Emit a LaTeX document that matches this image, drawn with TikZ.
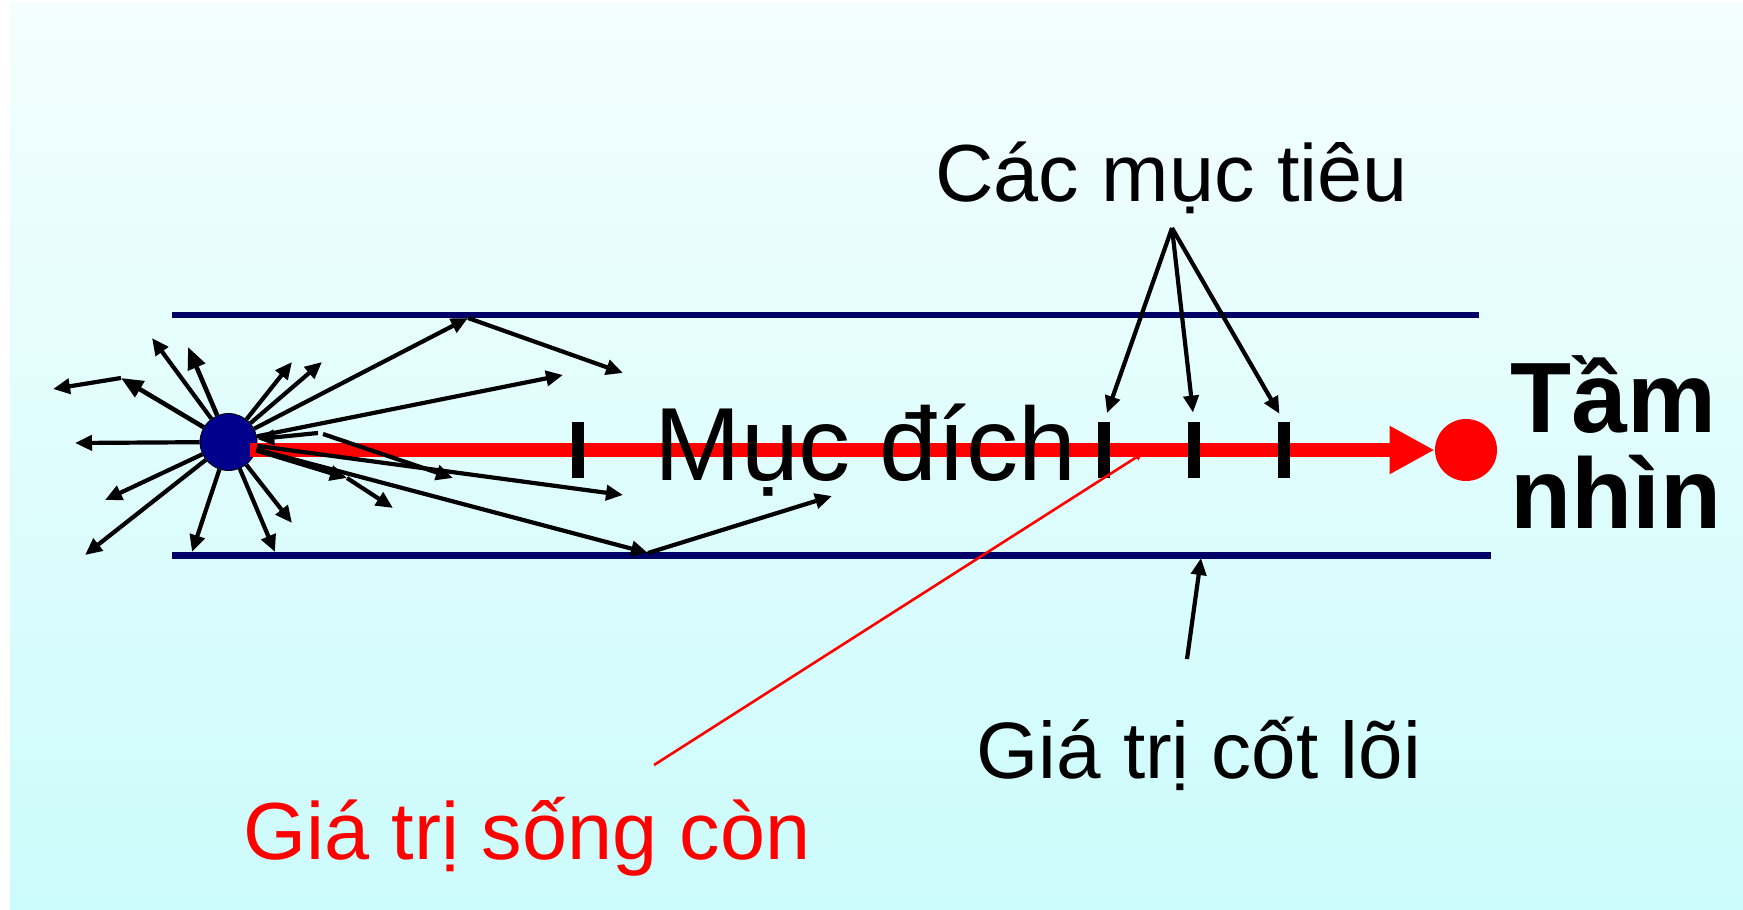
\documentclass[tikz,border=0pt]{standalone}
\usepackage{fontspec}
\setmainfont{Liberation Sans}
\usetikzlibrary{arrows.meta}
\definecolor{navyline}{RGB}{0,0,102}
\definecolor{navyfill}{RGB}{0,0,140}
\definecolor{bgtop}{RGB}{244,254,254}
\definecolor{bgbot}{RGB}{204,251,251}
\begin{document}
\begin{tikzpicture}[x=0.5pt,y=-0.5pt,
 arr/.style={line width=2.1pt, -{Triangle[length=8.5pt,width=7.5pt]}},
 bigarr/.style={line width=2.3pt, -{Triangle[length=11pt,width=9pt]}},
 boundary/.style={line width=3.4pt, navyline},
 srcdot/.style={circle, fill=navyfill, draw=black, line width=0.4pt, minimum size=28.5pt, inner sep=0pt},
 enddot/.style={circle, fill=red, minimum size=31pt, inner sep=0pt},
 tickmark/.style={rectangle, fill=black, minimum width=6pt, minimum height=28pt, inner sep=0pt},
 redbar/.style={red, line width=7.25pt, -{Triangle[length=22.5pt,width=22.5pt]}},
 pointer/.style={red, line width=1.3pt, -{Triangle[length=4pt,width=3.5pt]}},
 lbl/.style={inner sep=0pt, anchor=base west, font=\fontsize{40.5pt}{48pt}\selectfont},
]
\useasboundingbox (0,0) rectangle (1743,909);
\fill[white] (0,0) rectangle (1743,909);
\shade[top color=bgtop, bottom color=bgbot] (10,4) rectangle (1743,909);

% boundary lines
\coordinate (tl1) at (172,315); \coordinate (tl2) at (1479,315);
\coordinate (bl1) at (172,555.5); \coordinate (bl2) at (1491,555.5);
\draw[boundary] (tl1) -- (tl2);
\draw[boundary] (bl1) -- (bl2);

% main nodes
\node[srcdot] (src) at (228.5,442) {};
\node[enddot] (vis) at (1466,450) {};
\coordinate (rs) at (250,450);
\draw[redbar] (rs) -- (vis.west);

\node[tickmark] (t0) at (578,450) {};
\node[tickmark] (t1) at (1104,450) {};
\node[tickmark] (t2) at (1194,450) {};
\node[tickmark] (t3) at (1284,450) {};

% texts
\node[lbl, font=\fontsize{52pt}{60pt}\selectfont] (goal) at (654,480) {Mục đích};
\node[lbl] (obj) at (935,202) {Các mục tiêu};
\node[lbl, font=\fontsize{50pt}{58pt}\selectfont\bfseries] (tam) at (1510,432) {Tầm};
\node[lbl, font=\fontsize{50pt}{58pt}\selectfont\bfseries] (nhin) at (1510,528) {nhìn};
\node[lbl, font=\fontsize{40pt}{48pt}\selectfont] (core) at (976,778) {Giá trị cốt lõi};
\node[lbl, text=red] (surv) at (243,859) {Giá trị sống còn};

% objectives arrows
\coordinate (g) at (1172,228);
\draw[arr, shorten >=4.5pt] (g) -- (t1.north);
\draw[arr, shorten >=4.5pt] (g) -- (t2.north);
\draw[arr, shorten >=4.5pt] (g) -- (t3.north);

% core value arrow
\coordinate (ca) at (1187,659); \coordinate (cb) at (1201,558);
\draw[arr] (ca) -- (cb);

% survival pointer
\coordinate (sa) at (654,765); \coordinate (sb) at (1143,453);
\draw[pointer] (sa) -- (sb);

% scattered arrows
\coordinate (p1) at (75,443);
\coordinate (b1) at (121,378); \coordinate (p2) at (53,389);
\coordinate (p3) at (152,338);
\coordinate (p4) at (188,347);
\coordinate (p5) at (292,362);
\coordinate (p6) at (322,362);
\coordinate (tb) at (468,318); \coordinate (p7) at (623,373);
\coordinate (p8) at (563,375);
\coordinate (k1) at (318,433);
\coordinate (k2) at (323,434); \coordinate (p9) at (453,478);
\coordinate (p10) at (623,495);
\coordinate (lb) at (347,478); \coordinate (p11) at (393,508);
\coordinate (bb) at (648,553); \coordinate (p12) at (832,496);
\coordinate (p13) at (105,500);
\coordinate (p14) at (85,555);
\coordinate (p15) at (192,552);
\coordinate (p16) at (275,552);
\coordinate (p17) at (292,523);

\draw[arr] (src) -- (p1);
\draw[bigarr] (src) -- (b1);
\draw[arr] (b1) -- (p2);
\draw[arr] (src) -- (p3);
\draw[bigarr] (src) -- (p4);
\draw[arr] (src) -- (p5);
\draw[arr] (src) -- (p6);
\draw[arr] (src) -- (tb);
\draw[arr] (tb) -- (p7);
\draw[arr] (src) -- (p8);
\draw[arr] (k1) -- (src);
\draw[arr] (k2) -- (p9);
\draw[arr] (src) -- (p10);
\draw[arr] (src) -- (lb);
\draw[arr] (lb) -- (p11);
\draw[arr] (src) -- (bb);
\draw[arr] (bb) -- (p12);
\draw[arr] (src) -- (p13);
\draw[arr] (src) -- (p14);
\draw[arr] (src) -- (p15);
\draw[arr] (src) -- (p16);
\draw[arr] (src) -- (p17);
\end{tikzpicture}
\end{document}
